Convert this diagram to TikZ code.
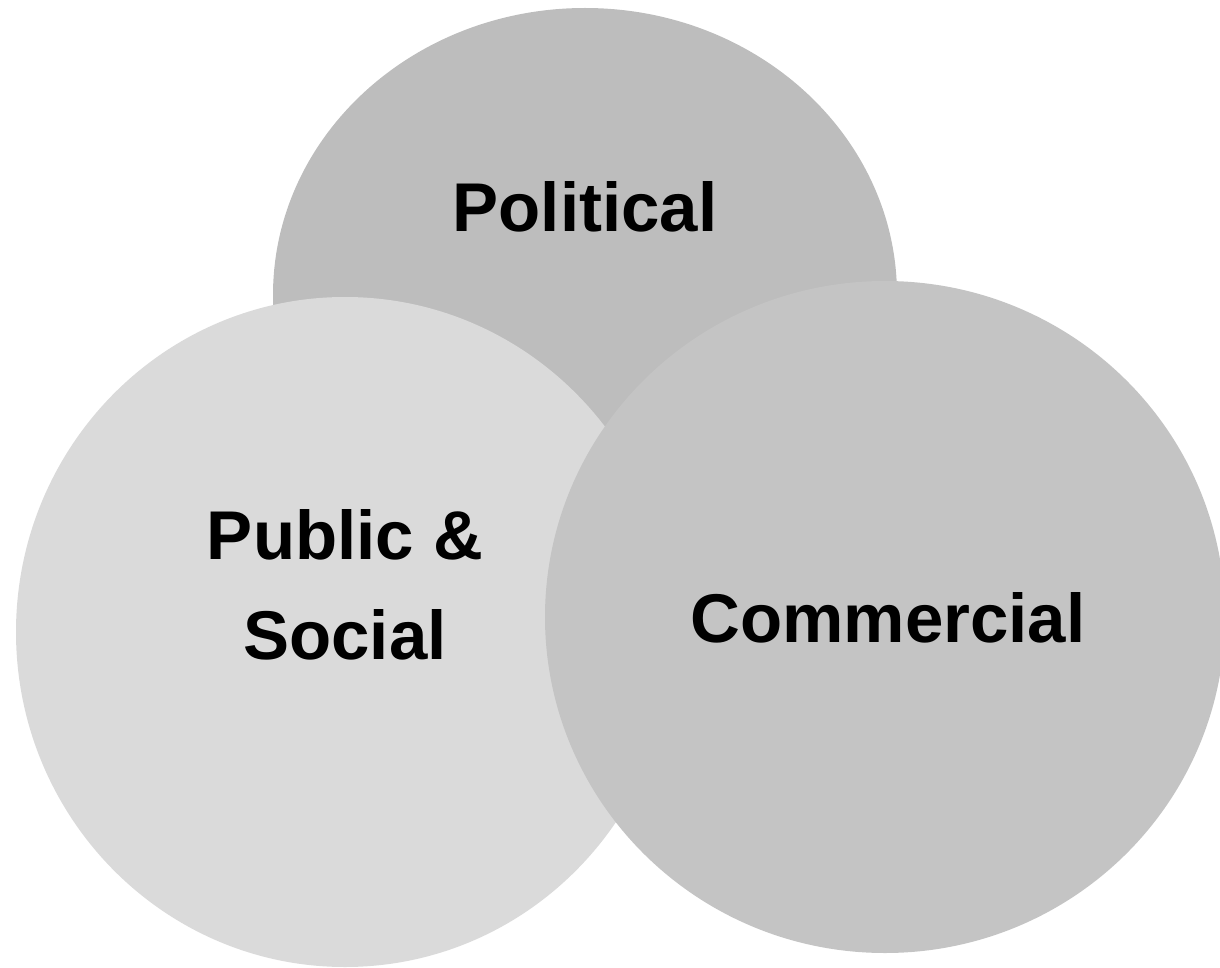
\documentclass[tikz,border=0pt]{standalone}
\usepackage{fontspec}
\setmainfont{Liberation Sans}
\usetikzlibrary{shapes.geometric}

\definecolor{polgray}{HTML}{BDBDBD}
\definecolor{pubgray}{HTML}{DADADA}
\definecolor{comgray}{HTML}{C4C4C4}

\tikzset{
  label/.style={font=\fontsize{69}{100}\selectfont\bfseries, align=center, inner sep=0pt}
}

\begin{document}
\begin{tikzpicture}[x=1pt, y=-1pt]
  \useasboundingbox (0,0) rectangle (1220,968);
  \clip (0,0) rectangle (1220,968);

  % Circles
  \fill[polgray] (585,295) ellipse [x radius=312, y radius=287];
  \fill[pubgray] (345,632) ellipse [x radius=329, y radius=335];
  \fill[comgray] (885,617) ellipse [x radius=340, y radius=336];

  % Labels
  \node[label] (pol) at (585,207) {Political};
  \node[label] (pub) at (345,585) {Public \&\\Social};
  \node[label] (com) at (888,618) {Commercial};
\end{tikzpicture}
\end{document}
